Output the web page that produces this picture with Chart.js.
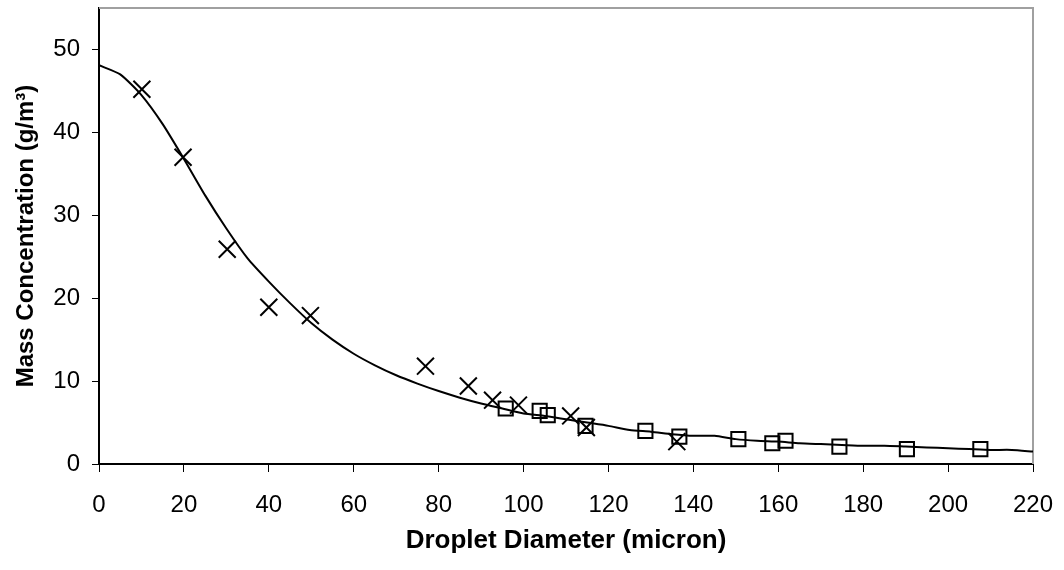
<!DOCTYPE html>
<html>
<head>
    <title>Mass Concentration vs Droplet Diameter</title>
    <script src="https://cdn.jsdelivr.net/npm/chart.js"></script>
    <style>
        html, body { margin: 0; padding: 0; background: #fff; overflow: hidden; }
        canvas { display: block; }
    </style>
</head>
<body>
<canvas id="massChart" width="1064" height="570"></canvas>
<script>
// fitted curve (every 5 micron)
const curveX = [0,5,10,15,20,25,30,35,40,45,50,55,60,65,70,75,80,85,90,95,100,105,110,115,120,125,130,135,140,145,150,155,160,165,170,175,180,185,190,195,200,205,210,215,220];
const curveY = [48.1,47.0,44.5,41.0,36.8,32.4,28.4,24.8,22.0,19.4,17.0,15.0,13.3,11.9,10.7,9.7,8.8,8.0,7.3,6.7,6.1,5.8,5.4,5.0,4.6,4.1,3.9,3.6,3.4,3.4,3.0,2.8,2.7,2.5,2.4,2.3,2.2,2.2,2.1,2.0,1.9,1.8,1.7,1.7,1.5];

// measured points, cross markers
const crossX = [10.1,19.8,30.2,40,49.8,76.9,87,92.7,98.8,111.1,114.8,136.1];
const crossY = [45.2,37,25.9,18.9,17.9,11.8,9.4,7.7,7.1,5.8,4.4,2.7];

// measured points, square markers
const squareX = [95.8,103.8,105.7,114.6,128.7,136.7,150.6,158.6,161.7,174.4,190.3,207.6];
const squareY = [6.7,6.4,5.9,4.6,4.0,3.3,3.0,2.5,2.8,2.1,1.8,1.8];

const xTicks = [0,20,40,60,80,100,120,140,160,180,200,220];
const yTicks = [0,10,20,30,40,50];

const toPoints = (xs, ys) => xs.map((x, i) => ({ x: x, y: ys[i] }));

// grey top and right frame lines
const framePlugin = {
    id: 'frame',
    beforeDatasetsDraw(chart) {
        const { ctx, chartArea: a } = chart;
        ctx.save();
        ctx.strokeStyle = '#a0a0a0';
        ctx.lineWidth = 2;
        ctx.beginPath();
        ctx.moveTo(a.left, a.top);
        ctx.lineTo(a.right, a.top);
        ctx.lineTo(a.right, a.bottom);
        ctx.stroke();
        ctx.restore();
    }
};

const noPad = s => { s.paddingTop = 0; s.paddingBottom = 0; s.paddingLeft = 0; s.paddingRight = 0; };

new Chart(document.getElementById('massChart'), {
    type: 'scatter',
    data: {
        datasets: [{
            label: 'Curve',
            data: toPoints(curveX, curveY),
            showLine: true,
            borderColor: '#000',
            borderWidth: 2,
            pointRadius: 0,
            tension: 0.2
        }, {
            label: 'Cross',
            data: toPoints(crossX, crossY),
            pointStyle: 'crossRot',
            pointRadius: 12,
            borderColor: '#000',
            borderWidth: 2,
            backgroundColor: 'transparent'
        }, {
            label: 'Square',
            data: toPoints(squareX, squareY),
            pointStyle: 'rect',
            pointRadius: 10,
            borderColor: '#000',
            borderWidth: 2,
            backgroundColor: 'transparent'
        }]
    },
    options: {
        responsive: false,
        animation: false,
        devicePixelRatio: 1,
        layout: { autoPadding: false, padding: { top: 8, right: 31, left: 0, bottom: 0 } },
        plugins: {
            legend: { display: false },
            tooltip: { enabled: false }
        },
        scales: {
            x: {
                type: 'linear',
                min: 0,
                max: 220,
                afterBuildTicks: s => { s.ticks = xTicks.map(v => ({ value: v })); },
                afterFit: s => { s.height = 106; noPad(s); },
                border: { display: true, color: '#000', width: 2 },
                grid: { display: true, drawOnChartArea: false, drawTicks: true, tickLength: 8, color: '#000', lineWidth: 1 },
                ticks: { color: '#000', padding: 19, maxRotation: 0, autoSkip: false, font: { family: "'Liberation Sans', Arial", size: 24 } },
                title: {
                    display: true,
                    text: 'Droplet Diameter (micron)',
                    color: '#000',
                    padding: { top: 0, bottom: 14 },
                    font: { family: "'Liberation Sans', Arial", size: 26, weight: 'bold' }
                }
            },
            y: {
                type: 'linear',
                min: 0,
                max: 55,
                afterBuildTicks: s => { s.ticks = yTicks.map(v => ({ value: v })); },
                afterFit: s => { s.width = 99; noPad(s); },
                border: { display: true, color: '#000', width: 2 },
                grid: { display: true, drawOnChartArea: false, drawTicks: true, tickLength: 7, color: '#000', lineWidth: 1 },
                ticks: { color: '#000', padding: 12, font: { family: "'Liberation Sans', Arial", size: 24 } },
                title: {
                    display: true,
                    text: 'Mass Concentration (g/m³)',
                    color: '#000',
                    padding: { top: 12, bottom: 0 },
                    font: { family: "'Liberation Sans', Arial", size: 24, weight: 'bold' }
                }
            }
        }
    },
    plugins: [framePlugin]
});
</script>
</body>
</html>
